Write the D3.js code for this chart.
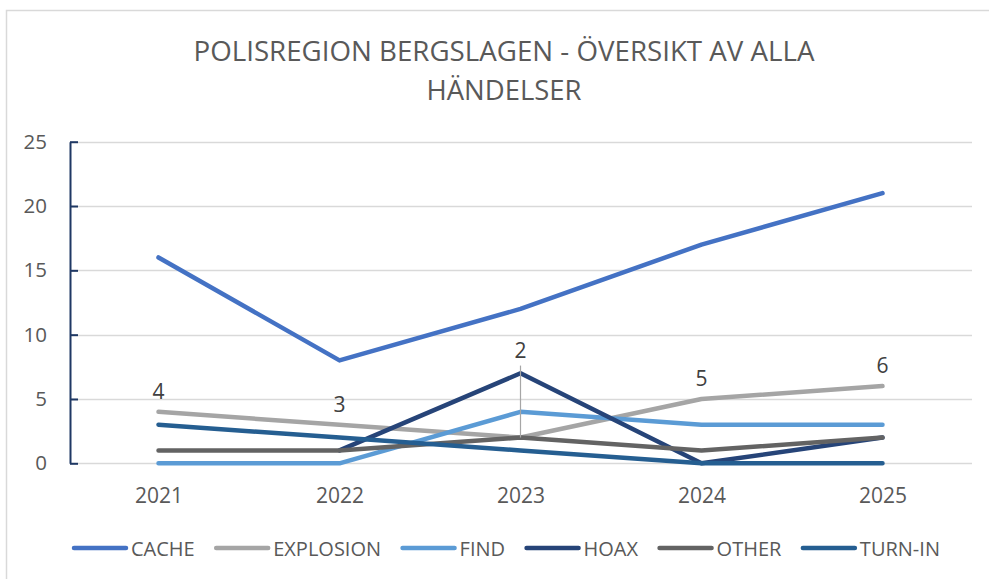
<!DOCTYPE html>
<html>
<head>
<meta charset="utf-8">
<script src="https://cdn.jsdelivr.net/npm/d3@7"></script>
<style>
  html, body { margin: 0; padding: 0; background: #ffffff; }
  svg { display: block; font-family: "Open Sans", "Noto Sans", sans-serif; }
</style>
</head>
<body>
<svg id="chart" width="989" height="579"></svg>
<script>
// ---- Data ----
const categories = ["2021", "2022", "2023", "2024", "2025"];
const seriesNames = ["CACHE", "EXPLOSION", "FIND", "HOAX", "OTHER", "TURN-IN"];
const cacheValues = [16, 8, 12, 17, 21];
const explosionValues = [4, 3, 2, 5, 6];
const findValues = [0, 0, 4, 3, 3];
const hoaxValues = [null, 1, 7, 0, 2];
const otherValues = [1, 1, 2, 1, 2];
const turnInValues = [3, 2, 1, 0, 0];
const yTicks = [0, 5, 10, 15, 20, 25];
const titleLines = ["POLISREGION BERGSLAGEN - ÖVERSIKT AV ALLA", "HÄNDELSER"];

// ---- Styles ----
const colors = ["#4472C4", "#A5A5A5", "#5B9BD5", "#264478", "#636363", "#255E91"];
const seriesValues = [cacheValues, explosionValues, findValues, hoaxValues, otherValues, turnInValues];
const series = seriesNames.map((name, i) => ({ name, values: seriesValues[i], color: colors[i] }));

const svg = d3.select("#chart");

// outer chart border (only top/left visible in the reference)
svg.append("rect")
  .attr("x", 6.5).attr("y", 10.5)
  .attr("width", 1000).attr("height", 600)
  .attr("fill", "none").attr("stroke", "#d9d9d9").attr("stroke-width", 1.5);

// title
const title = svg.append("g").attr("fill", "#595959").attr("font-size", 28).attr("text-anchor", "middle");
title.selectAll("text").data(titleLines).join("text")
  .attr("x", 504)
  .attr("y", (d, i) => 61 + i * 39)
  .text(d => d)
  .each(function(d, i) {
    const w = this.getComputedTextLength();
    const target = i === 0 ? 621 : 155;
    if (Math.abs(w - target) > 2) {
      this.setAttribute("textLength", target);
      this.setAttribute("lengthAdjust", "spacingAndGlyphs");
    }
  });

// scales
const x = d3.scalePoint().domain(categories).range([68, 973]).padding(0.5);
const y = d3.scaleLinear().domain([0, 25]).range([463.3, 141.7]);

// gridlines
svg.append("g").selectAll("line").data(yTicks).join("line")
  .attr("x1", 70).attr("x2", 972)
  .attr("y1", d => Math.round(y(d)) + 0.5).attr("y2", d => Math.round(y(d)) + 0.5)
  .attr("stroke", "#d9d9d9").attr("stroke-width", 1.3);

// y axis
const yAxis = svg.append("g")
  .attr("transform", "translate(70,0)")
  .call(d3.axisLeft(y).tickValues(yTicks).tickSizeInner(-8).tickSizeOuter(0).tickPadding(23));
yAxis.select(".domain").attr("stroke", "#1F3864").attr("stroke-width", 2);
yAxis.selectAll(".tick line").attr("stroke", "#1F3864").attr("stroke-width", 2);
yAxis.selectAll(".tick text").attr("font-size", 20.5).attr("fill", "#595959")
  .attr("font-family", "'Open Sans', sans-serif");

// x axis
const xAxis = svg.append("g")
  .attr("transform", "translate(0,463)")
  .call(d3.axisBottom(x).tickSize(0));
xAxis.select(".domain").remove();
xAxis.selectAll(".tick text").attr("font-size", 21).attr("fill", "#595959")
  .attr("font-family", "'Open Sans', sans-serif")
  .attr("y", 40).attr("dy", 0);

// lines
const line = d3.line()
  .defined(d => d.v !== null)
  .x(d => x(d.c))
  .y(d => y(d.v));

svg.append("g").selectAll("path").data(series).join("path")
  .attr("d", s => line(s.values.map((v, i) => ({ c: categories[i], v }))))
  .attr("fill", "none")
  .attr("stroke", s => s.color)
  .attr("stroke-width", 4.5)
  .attr("stroke-linejoin", "round")
  .attr("stroke-linecap", "round");

// data labels on EXPLOSION
const labelLift = explosionValues.map((v, i) => i === 2 ? 80 : 13);
const labels = svg.append("g").attr("font-size", 21).attr("fill", "#404040").attr("text-anchor", "middle");
explosionValues.forEach((v, i) => {
  const px = x(categories[i]), py = y(v);
  if (labelLift[i] > 30) {
    labels.append("line")
      .attr("x1", px).attr("x2", px)
      .attr("y1", py - labelLift[i] + 8).attr("y2", py)
      .attr("stroke", "#a6a6a6").attr("stroke-width", 1.2);
  }
  labels.append("text")
    .attr("x", px).attr("y", py - labelLift[i])
    .text(v);
});

// legend
const legend = svg.append("g").attr("transform", "translate(72,548)");
let lx = 0;
series.forEach(s => {
  const g = legend.append("g").attr("transform", `translate(${lx},0)`);
  g.append("line").attr("x1", 2).attr("x2", 54).attr("y1", 0).attr("y2", 0)
    .attr("stroke", s.color).attr("stroke-width", 4.5).attr("stroke-linecap", "round");
  const t = g.append("text").attr("x", 59).attr("y", 7.5)
    .attr("font-size", 20).attr("fill", "#595959").text(s.name);
  lx += 59 + t.node().getComputedTextLength() + 19.5;
});
</script>
</body>
</html>
